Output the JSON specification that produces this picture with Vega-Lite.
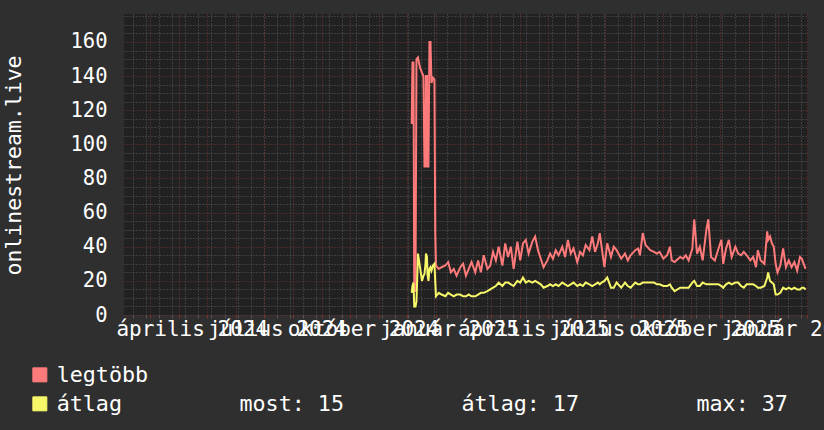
{
  "$schema": "https://vega.github.io/schema/vega-lite/v6.json",
  "width": 684,
  "height": 301,
  "autosize": {"type": "none"},
  "padding": {"left": 124, "top": 14, "right": 16, "bottom": 115},
  "background": "#2f2f2f",
  "config": {
    "view": {"fill": "#212121", "stroke": null},
    "font": "DejaVu Sans Mono",
    "axis": {"domain": false, "labelFont": "DejaVu Sans Mono", "titleFont": "DejaVu Sans Mono"}
  },
  "data": {
    "values": [
      {"t": "2024-12-06T01:00:00Z", "legtöbb": 112, "átlag": 13},
      {"t": "2024-12-06T21:00:00Z", "legtöbb": 148, "átlag": 17},
      {"t": "2024-12-07T23:00:00Z", "legtöbb": 148, "átlag": 19},
      {"t": "2024-12-08T19:00:00Z", "legtöbb": 14, "átlag": 5},
      {"t": "2024-12-10T02:00:00Z", "legtöbb": 14, "átlag": 5},
      {"t": "2024-12-11T04:00:00Z", "legtöbb": 150, "átlag": 8},
      {"t": "2024-12-12T18:00:00Z", "legtöbb": 151, "átlag": 36},
      {"t": "2024-12-14T22:00:00Z", "legtöbb": 145, "átlag": 28},
      {"t": "2024-12-17T01:00:00Z", "legtöbb": 142, "átlag": 20},
      {"t": "2024-12-18T15:00:00Z", "legtöbb": 140, "átlag": 23},
      {"t": "2024-12-19T17:00:00Z", "legtöbb": 87, "átlag": 24},
      {"t": "2024-12-20T19:00:00Z", "legtöbb": 87, "átlag": 30},
      {"t": "2024-12-21T07:00:00Z", "legtöbb": 140, "átlag": 36},
      {"t": "2024-12-22T09:00:00Z", "legtöbb": 140, "átlag": 34},
      {"t": "2024-12-22T22:00:00Z", "legtöbb": 87, "átlag": 24},
      {"t": "2024-12-23T23:00:00Z", "legtöbb": 87, "átlag": 20},
      {"t": "2024-12-25T01:00:00Z", "legtöbb": 160, "átlag": 27},
      {"t": "2024-12-26T03:00:00Z", "legtöbb": 160, "átlag": 28},
      {"t": "2024-12-27T05:00:00Z", "legtöbb": 136, "átlag": 26},
      {"t": "2024-12-28T19:00:00Z", "legtöbb": 139, "átlag": 29},
      {"t": "2024-12-30T09:00:00Z", "legtöbb": 138, "átlag": 30},
      {"t": "2024-12-31T05:00:00Z", "legtöbb": 48, "átlag": 20},
      {"t": "2025-01-01T00:00:00Z", "legtöbb": 29, "átlag": 11},
      {"t": "2025-01-04", "legtöbb": 27, "átlag": 13},
      {"t": "2025-01-07", "legtöbb": 28, "átlag": 12},
      {"t": "2025-01-11", "legtöbb": 29, "átlag": 11},
      {"t": "2025-01-14", "legtöbb": 31, "átlag": 13},
      {"t": "2025-01-17", "legtöbb": 25, "átlag": 12},
      {"t": "2025-01-20", "legtöbb": 27, "átlag": 11},
      {"t": "2025-01-23", "legtöbb": 23, "átlag": 12},
      {"t": "2025-01-27", "legtöbb": 28, "átlag": 12},
      {"t": "2025-01-30", "legtöbb": 30, "átlag": 11},
      {"t": "2025-02-02", "legtöbb": 23, "átlag": 11},
      {"t": "2025-02-05", "legtöbb": 27, "átlag": 12},
      {"t": "2025-02-08", "legtöbb": 31, "átlag": 11},
      {"t": "2025-02-12", "legtöbb": 25, "átlag": 11},
      {"t": "2025-02-15", "legtöbb": 32, "átlag": 12},
      {"t": "2025-02-18", "legtöbb": 25, "átlag": 13},
      {"t": "2025-02-21", "legtöbb": 35, "átlag": 13},
      {"t": "2025-02-25", "legtöbb": 27, "átlag": 14},
      {"t": "2025-02-28", "legtöbb": 29, "átlag": 15},
      {"t": "2025-03-03", "legtöbb": 37, "átlag": 16},
      {"t": "2025-03-06", "legtöbb": 32, "átlag": 17},
      {"t": "2025-03-09", "legtöbb": 40, "átlag": 19},
      {"t": "2025-03-13", "legtöbb": 29, "átlag": 17},
      {"t": "2025-03-16", "legtöbb": 42, "átlag": 19},
      {"t": "2025-03-19", "legtöbb": 34, "átlag": 19},
      {"t": "2025-03-22", "legtöbb": 40, "átlag": 18},
      {"t": "2025-03-25", "legtöbb": 27, "átlag": 17},
      {"t": "2025-03-29", "legtöbb": 43, "átlag": 20},
      {"t": "2025-04-01", "legtöbb": 32, "átlag": 19},
      {"t": "2025-04-04", "legtöbb": 42, "átlag": 22},
      {"t": "2025-04-07", "legtöbb": 44, "átlag": 19},
      {"t": "2025-04-10", "legtöbb": 36, "átlag": 20},
      {"t": "2025-04-14", "legtöbb": 43, "átlag": 19},
      {"t": "2025-04-17", "legtöbb": 46, "átlag": 20},
      {"t": "2025-04-20", "legtöbb": 38, "átlag": 19},
      {"t": "2025-04-23", "legtöbb": 33, "átlag": 18},
      {"t": "2025-04-26", "legtöbb": 28, "átlag": 16},
      {"t": "2025-04-30", "legtöbb": 32, "átlag": 17},
      {"t": "2025-05-03", "legtöbb": 36, "átlag": 18},
      {"t": "2025-05-06", "legtöbb": 33, "átlag": 17},
      {"t": "2025-05-09", "legtöbb": 38, "átlag": 18},
      {"t": "2025-05-12", "legtöbb": 35, "átlag": 17},
      {"t": "2025-05-16", "legtöbb": 40, "átlag": 19},
      {"t": "2025-05-19", "legtöbb": 34, "átlag": 18},
      {"t": "2025-05-22", "legtöbb": 44, "átlag": 17},
      {"t": "2025-05-25", "legtöbb": 36, "átlag": 18},
      {"t": "2025-05-28", "legtöbb": 39, "átlag": 19},
      {"t": "2025-06-01", "legtöbb": 31, "átlag": 17},
      {"t": "2025-06-04", "legtöbb": 37, "átlag": 18},
      {"t": "2025-06-07", "legtöbb": 35, "átlag": 17},
      {"t": "2025-06-10", "legtöbb": 41, "átlag": 19},
      {"t": "2025-06-14", "legtöbb": 38, "átlag": 18},
      {"t": "2025-06-17", "legtöbb": 46, "átlag": 17},
      {"t": "2025-06-20", "legtöbb": 37, "átlag": 18},
      {"t": "2025-06-23", "legtöbb": 42, "átlag": 19},
      {"t": "2025-06-25", "legtöbb": 48, "átlag": 18},
      {"t": "2025-06-27", "legtöbb": 40, "átlag": 19},
      {"t": "2025-06-30", "legtöbb": 28, "átlag": 20},
      {"t": "2025-07-03", "legtöbb": 42, "átlag": 22},
      {"t": "2025-07-07", "legtöbb": 34, "átlag": 16},
      {"t": "2025-07-10", "legtöbb": 40, "átlag": 16},
      {"t": "2025-07-13", "legtöbb": 38, "átlag": 19},
      {"t": "2025-07-18", "legtöbb": 33, "átlag": 16},
      {"t": "2025-07-22", "legtöbb": 36, "átlag": 19},
      {"t": "2025-07-25", "legtöbb": 32, "átlag": 17},
      {"t": "2025-07-28", "legtöbb": 35, "átlag": 16},
      {"t": "2025-08-02", "legtöbb": 38, "átlag": 19},
      {"t": "2025-08-05", "legtöbb": 39, "átlag": 18},
      {"t": "2025-08-07", "legtöbb": 35, "átlag": 18},
      {"t": "2025-08-10", "legtöbb": 48, "átlag": 19},
      {"t": "2025-08-13", "legtöbb": 41, "átlag": 19},
      {"t": "2025-08-18", "legtöbb": 38, "átlag": 19},
      {"t": "2025-08-22", "legtöbb": 37, "átlag": 19},
      {"t": "2025-08-25", "legtöbb": 36, "átlag": 18},
      {"t": "2025-08-28", "legtöbb": 37, "átlag": 18},
      {"t": "2025-09-01", "legtöbb": 33, "átlag": 17},
      {"t": "2025-09-05", "legtöbb": 35, "átlag": 17},
      {"t": "2025-09-08", "legtöbb": 40, "átlag": 18},
      {"t": "2025-09-10", "legtöbb": 32, "átlag": 16},
      {"t": "2025-09-13", "legtöbb": 31, "átlag": 14},
      {"t": "2025-09-19", "legtöbb": 34, "átlag": 16},
      {"t": "2025-09-22", "legtöbb": 33, "átlag": 16},
      {"t": "2025-09-25", "legtöbb": 35, "átlag": 16},
      {"t": "2025-09-28", "legtöbb": 32, "átlag": 16},
      {"t": "2025-10-02", "legtöbb": 39, "átlag": 19},
      {"t": "2025-10-04", "legtöbb": 56, "átlag": 20},
      {"t": "2025-10-07", "legtöbb": 36, "átlag": 17},
      {"t": "2025-10-10", "legtöbb": 40, "átlag": 17},
      {"t": "2025-10-13", "legtöbb": 32, "átlag": 19},
      {"t": "2025-10-17", "legtöbb": 50, "átlag": 18},
      {"t": "2025-10-19", "legtöbb": 56, "átlag": 18},
      {"t": "2025-10-22", "legtöbb": 34, "átlag": 18},
      {"t": "2025-10-26", "legtöbb": 32, "átlag": 18},
      {"t": "2025-10-30", "legtöbb": 39, "átlag": 18},
      {"t": "2025-11-02", "legtöbb": 44, "átlag": 17},
      {"t": "2025-11-04", "legtöbb": 30, "átlag": 16},
      {"t": "2025-11-07", "legtöbb": 39, "átlag": 18},
      {"t": "2025-11-10", "legtöbb": 44, "átlag": 19},
      {"t": "2025-11-13", "legtöbb": 34, "átlag": 18},
      {"t": "2025-11-17", "legtöbb": 40, "átlag": 19},
      {"t": "2025-11-20", "legtöbb": 36, "átlag": 19},
      {"t": "2025-11-23", "legtöbb": 35, "átlag": 17},
      {"t": "2025-11-26", "legtöbb": 37, "átlag": 16},
      {"t": "2025-11-29", "legtöbb": 35, "átlag": 18},
      {"t": "2025-12-03", "legtöbb": 32, "átlag": 18},
      {"t": "2025-12-06", "legtöbb": 34, "átlag": 18},
      {"t": "2025-12-09", "legtöbb": 28, "átlag": 17},
      {"t": "2025-12-11", "legtöbb": 38, "átlag": 16},
      {"t": "2025-12-14", "legtöbb": 32, "átlag": 16},
      {"t": "2025-12-18", "legtöbb": 30, "átlag": 17},
      {"t": "2025-12-21", "legtöbb": 49, "átlag": 22},
      {"t": "2025-12-22", "legtöbb": 44, "átlag": 25},
      {"t": "2025-12-24", "legtöbb": 46, "átlag": 20},
      {"t": "2025-12-26", "legtöbb": 42, "átlag": 19},
      {"t": "2025-12-28", "legtöbb": 40, "átlag": 18},
      {"t": "2025-12-30", "legtöbb": 30, "átlag": 12},
      {"t": "2026-01-01", "legtöbb": 25, "átlag": 12},
      {"t": "2026-01-04", "legtöbb": 29, "átlag": 13},
      {"t": "2026-01-07", "legtöbb": 39, "átlag": 16},
      {"t": "2026-01-10", "legtöbb": 28, "átlag": 15},
      {"t": "2026-01-13", "legtöbb": 32, "átlag": 16},
      {"t": "2026-01-16", "legtöbb": 28, "átlag": 15},
      {"t": "2026-01-19", "legtöbb": 31, "átlag": 16},
      {"t": "2026-01-22", "legtöbb": 26, "átlag": 15},
      {"t": "2026-01-25", "legtöbb": 34, "átlag": 15},
      {"t": "2026-01-27", "legtöbb": 33, "átlag": 16},
      {"t": "2026-01-29", "legtöbb": 30, "átlag": 16},
      {"t": "2026-01-31", "legtöbb": 27, "átlag": 15}
    ]
  },
  "transform": [{"fold": ["legtöbb", "átlag"], "as": ["series", "value"]}],
  "layer": [
    {
      "mark": {"type": "point", "opacity": 0},
      "encoding": {
        "x": {
          "field": "t", "type": "temporal",
          "scale": {"type": "utc", "domain": [{"year": 2024, "month": 2, "date": 2, "hours": 14, "utc": true}, {"year": 2026, "month": 2, "date": 2, "hours": 14, "utc": true}]},
          "axis": {
            "orient": "bottom", "labels": false, "title": null, "ticks": true, "tickSize": 3, "tickColor": "#555555",
            "grid": true, "gridColor": "#5a5a5a", "gridDash": [1, 2], "gridWidth": 1, "zindex": 0,
            "values": [
              {"year": 2024, "month": 2, "date": 12, "utc": true}, {"year": 2024, "month": 2, "date": 26, "utc": true},
              {"year": 2024, "month": 3, "date": 11, "utc": true}, {"year": 2024, "month": 3, "date": 25, "utc": true},
              {"year": 2024, "month": 4, "date": 8, "utc": true}, {"year": 2024, "month": 4, "date": 22, "utc": true},
              {"year": 2024, "month": 5, "date": 6, "utc": true}, {"year": 2024, "month": 5, "date": 20, "utc": true},
              {"year": 2024, "month": 6, "date": 3, "utc": true}, {"year": 2024, "month": 6, "date": 17, "utc": true},
              {"year": 2024, "month": 7, "date": 1, "utc": true}, {"year": 2024, "month": 7, "date": 15, "utc": true},
              {"year": 2024, "month": 7, "date": 29, "utc": true}, {"year": 2024, "month": 8, "date": 12, "utc": true},
              {"year": 2024, "month": 8, "date": 26, "utc": true}, {"year": 2024, "month": 9, "date": 9, "utc": true},
              {"year": 2024, "month": 9, "date": 23, "utc": true}, {"year": 2024, "month": 10, "date": 7, "utc": true},
              {"year": 2024, "month": 10, "date": 21, "utc": true}, {"year": 2024, "month": 11, "date": 4, "utc": true},
              {"year": 2024, "month": 11, "date": 18, "utc": true}, {"year": 2024, "month": 12, "date": 2, "utc": true},
              {"year": 2024, "month": 12, "date": 16, "utc": true}, {"year": 2024, "month": 12, "date": 30, "utc": true},
              {"year": 2025, "month": 1, "date": 13, "utc": true}, {"year": 2025, "month": 1, "date": 27, "utc": true},
              {"year": 2025, "month": 2, "date": 10, "utc": true}, {"year": 2025, "month": 2, "date": 24, "utc": true},
              {"year": 2025, "month": 3, "date": 10, "utc": true}, {"year": 2025, "month": 3, "date": 24, "utc": true},
              {"year": 2025, "month": 4, "date": 7, "utc": true}, {"year": 2025, "month": 4, "date": 21, "utc": true},
              {"year": 2025, "month": 5, "date": 5, "utc": true}, {"year": 2025, "month": 5, "date": 19, "utc": true},
              {"year": 2025, "month": 6, "date": 2, "utc": true}, {"year": 2025, "month": 6, "date": 16, "utc": true},
              {"year": 2025, "month": 6, "date": 30, "utc": true}, {"year": 2025, "month": 7, "date": 14, "utc": true},
              {"year": 2025, "month": 7, "date": 28, "utc": true}, {"year": 2025, "month": 8, "date": 11, "utc": true},
              {"year": 2025, "month": 8, "date": 25, "utc": true}, {"year": 2025, "month": 9, "date": 8, "utc": true},
              {"year": 2025, "month": 9, "date": 22, "utc": true}, {"year": 2025, "month": 10, "date": 6, "utc": true},
              {"year": 2025, "month": 10, "date": 20, "utc": true}, {"year": 2025, "month": 11, "date": 3, "utc": true},
              {"year": 2025, "month": 11, "date": 17, "utc": true}, {"year": 2025, "month": 12, "date": 1, "utc": true},
              {"year": 2025, "month": 12, "date": 15, "utc": true}, {"year": 2025, "month": 12, "date": 29, "utc": true},
              {"year": 2026, "month": 1, "date": 12, "utc": true}, {"year": 2026, "month": 1, "date": 26, "utc": true}
            ]
          }
        },
        "y": {
          "field": "value", "type": "quantitative",
          "scale": {"domain": [0, 176.4], "nice": false, "zero": true},
          "axis": {
            "orient": "left", "labels": false, "ticks": false, "title": null,
            "grid": true, "gridColor": "#5a5a5a", "gridDash": [1, 2], "zindex": 0,
            "values": [5, 10, 15, 25, 30, 35, 45, 50, 55, 65, 70, 75, 85, 90, 95, 105, 110, 115, 125, 130, 135, 145, 150, 155, 165, 170, 175]
          }
        }
      }
    },
    {
      "mark": {"type": "point", "opacity": 0},
      "encoding": {
        "x": {
          "field": "t", "type": "temporal",
          "axis": {
            "orient": "bottom", "labels": false, "title": null, "ticks": true, "tickSize": 3, "tickColor": "#7a3030",
            "grid": true, "gridColor": "#7a3434", "gridDash": [1, 2], "gridWidth": 1, "zindex": 0,
            "values": [
              {"year": 2024, "month": 3, "date": 1, "utc": true}, {"year": 2024, "month": 4, "date": 1, "utc": true},
              {"year": 2024, "month": 5, "date": 1, "utc": true}, {"year": 2024, "month": 6, "date": 1, "utc": true},
              {"year": 2024, "month": 7, "date": 1, "utc": true}, {"year": 2024, "month": 8, "date": 1, "utc": true},
              {"year": 2024, "month": 9, "date": 1, "utc": true}, {"year": 2024, "month": 10, "date": 1, "utc": true},
              {"year": 2024, "month": 11, "date": 1, "utc": true}, {"year": 2024, "month": 12, "date": 1, "utc": true},
              {"year": 2025, "month": 1, "date": 1, "utc": true}, {"year": 2025, "month": 2, "date": 1, "utc": true},
              {"year": 2025, "month": 3, "date": 1, "utc": true}, {"year": 2025, "month": 4, "date": 1, "utc": true},
              {"year": 2025, "month": 5, "date": 1, "utc": true}, {"year": 2025, "month": 6, "date": 1, "utc": true},
              {"year": 2025, "month": 7, "date": 1, "utc": true}, {"year": 2025, "month": 8, "date": 1, "utc": true},
              {"year": 2025, "month": 9, "date": 1, "utc": true}, {"year": 2025, "month": 10, "date": 1, "utc": true},
              {"year": 2025, "month": 11, "date": 1, "utc": true}, {"year": 2025, "month": 12, "date": 1, "utc": true},
              {"year": 2026, "month": 1, "date": 1, "utc": true}, {"year": 2026, "month": 2, "date": 1, "utc": true}
            ]
          }
        },
        "y": {
          "field": "value", "type": "quantitative",
          "axis": {
            "orient": "left", "ticks": false, "labelPadding": 17,
            "labelColor": "#ffffff", "labelFontSize": 20.5, "labelBaseline": "middle",
            "grid": true, "gridColor": "#7a3434", "gridDash": [1, 2], "zindex": 0,
            "values": [0, 20, 40, 60, 80, 100, 120, 140, 160],
            "title": "onlinestream.live", "titleColor": "#ffffff", "titleFontSize": 21.5, "titleFontWeight": "normal",
            "titleAngle": -90, "titleX": -110, "titleY": 151, "titleAlign": "center", "titleBaseline": "middle"
          }
        }
      }
    },
    {
      "mark": {"type": "line", "strokeWidth": 2},
      "encoding": {
        "x": {
          "field": "t", "type": "temporal",
          "axis": {
            "orient": "bottom", "ticks": false, "grid": false, "title": null, "zindex": 1,
            "labelColor": "#ffffff", "labelFontSize": 21, "labelPadding": 3,
            "labelOverlap": false, "labelBound": false, "labelFlush": false, "labelAlign": "center",
            "labelExpr": "['január','február','március','április','május','június','július','augusztus','szeptember','október','november','december'][utcmonth(datum.value)] + ' ' + utcyear(datum.value)",
            "values": [
              {"year": 2024, "month": 4, "date": 15, "utc": true}, {"year": 2024, "month": 7, "date": 15, "utc": true},
              {"year": 2024, "month": 10, "date": 15, "utc": true}, {"year": 2025, "month": 1, "date": 15, "utc": true},
              {"year": 2025, "month": 4, "date": 15, "utc": true}, {"year": 2025, "month": 7, "date": 15, "utc": true},
              {"year": 2025, "month": 10, "date": 15, "utc": true}, {"year": 2026, "month": 1, "date": 15, "utc": true}
            ]
          }
        },
        "y": {"field": "value", "type": "quantitative", "axis": null},
        "color": {
          "field": "series", "type": "nominal",
          "scale": {"domain": ["legtöbb", "átlag"], "range": ["#ff7b7b", "#f7f76a"]},
          "legend": {
            "orient": "none", "legendX": -95, "legendY": 350, "title": null, "padding": 0,
            "direction": "vertical", "symbolType": "square", "symbolSize": 196, "symbolStrokeWidth": 1,
            "labelFont": "DejaVu Sans Mono", "labelFontSize": 21.7, "labelColor": "#ffffff", "labelOffset": 6,
            "rowPadding": 6, "labelLimit": 900,
            "labelExpr": "datum.label == 'átlag' ? 'átlag\u00a0\u00a0\u00a0\u00a0\u00a0\u00a0\u00a0\u00a0\u00a0most: 15\u00a0\u00a0\u00a0\u00a0\u00a0\u00a0\u00a0\u00a0\u00a0átlag: 17\u00a0\u00a0\u00a0\u00a0\u00a0\u00a0\u00a0\u00a0\u00a0max: 37' : datum.label",
            "encode": {
              "symbols": {
                "update": {
                  "fill": {"scale": "color", "field": "value"},
                  "stroke": {"value": "#000000"},
                  "strokeWidth": {"value": 1},
                  "opacity": {"value": 1},
                  "fillOpacity": {"value": 1}
                }
              }
            }
          }
        }
      }
    }
  ],
  "resolve": {"axis": {"x": "independent", "y": "independent"}}
}
